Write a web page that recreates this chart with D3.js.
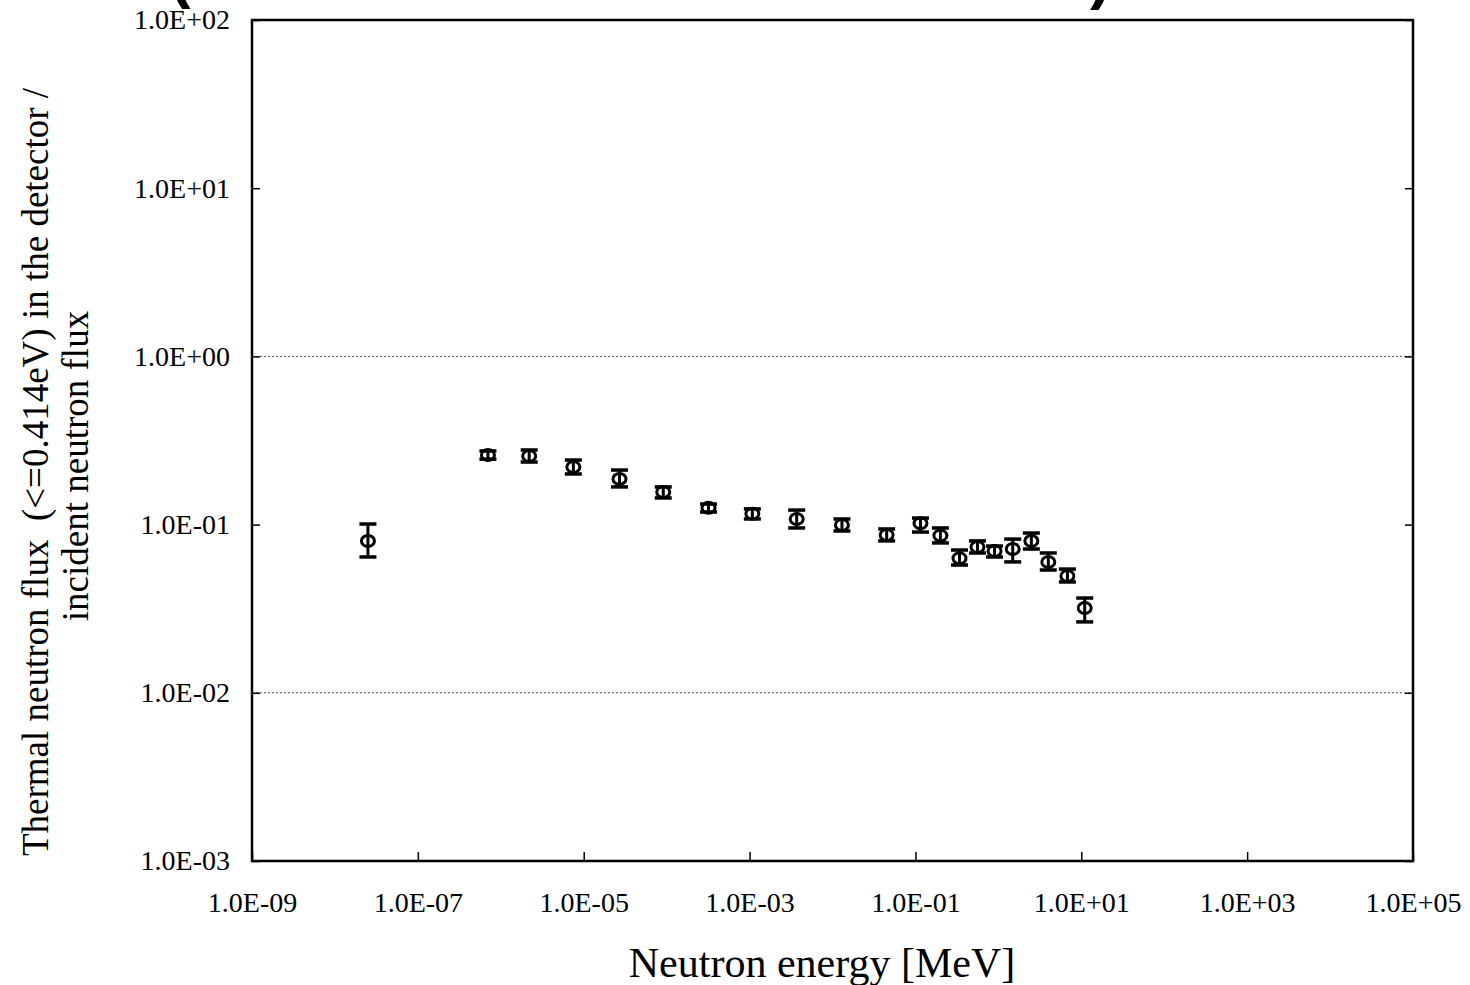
<!DOCTYPE html>
<html>
<head>
<meta charset="utf-8">
<script src="https://cdn.jsdelivr.net/npm/d3@7"></script>
<style>
  body { margin: 0; background: #fff; }
  svg { display: block; }
</style>
</head>
<body>
<div id="chart"></div>
<script>
// neutron energy [MeV]
const energy = [2.5e-8, 7.0e-7, 2.2e-6, 7.5e-6, 2.7e-5, 9.1e-5, 3.2e-4, 1.08e-3, 3.7e-3, 1.3e-2, 4.5e-2,
  0.115, 0.20, 0.34, 0.56, 0.90, 1.49, 2.5, 4.0, 6.8, 11];
// thermal flux ratio
const ratio = [0.080, 0.259, 0.256, 0.220, 0.187, 0.156, 0.126, 0.116, 0.108, 0.0995, 0.0867,
  0.102, 0.086, 0.063, 0.0736, 0.0697, 0.0716, 0.080, 0.060, 0.0494, 0.0319];
const errHi = [0.1008, 0.274, 0.2777, 0.242, 0.211, 0.1675, 0.1325, 0.124, 0.122, 0.108, 0.0942,
  0.1094, 0.0955, 0.0706, 0.080, 0.0746, 0.082, 0.0891, 0.0678, 0.0544, 0.0366];
const errLo = [0.0642, 0.245, 0.2355, 0.200, 0.1675, 0.144, 0.1188, 0.108, 0.0955, 0.0916, 0.080,
  0.0903, 0.0778, 0.0575, 0.0678, 0.0642, 0.060, 0.0716, 0.0537, 0.0456, 0.0264];

const xTicks = [1e-9, 1e-7, 1e-5, 1e-3, 1e-1, 1e1, 1e3, 1e5];
const xTickLabels = ["1.0E-09", "1.0E-07", "1.0E-05", "1.0E-03", "1.0E-01", "1.0E+01", "1.0E+03", "1.0E+05"];
const yTicks = [1e-3, 1e-2, 1e-1, 1e0, 1e1, 1e2];
const yTickLabels = ["1.0E-03", "1.0E-02", "1.0E-01", "1.0E+00", "1.0E+01", "1.0E+02"];
const yGrid = [1e-2, 1e0];

const data = energy.map((e, i) => ({ e: e, v: ratio[i], hi: errHi[i], lo: errLo[i] }));

const W = 1470, H = 985;
const plotLeft = 252, plotRight = 1413, plotTop = 20, plotBottom = 861;
const font = "'Liberation Serif', 'Times New Roman', serif";

const svg = d3.select("#chart")
  .append("svg")
    .attr("width", W)
    .attr("height", H);

const xScale = d3.scaleLog()
  .domain([1e-9, 1e5])
  .range([plotLeft, plotRight]);

const yScale = d3.scaleLog()
  .domain([1e-3, 1e2])
  .range([plotBottom, plotTop]);

// cut-off title remnants at the top edge
svg.append("text")
  .text("(")
  .attr("x", 170)
  .attr("y", -4)
  .style("font-family", "'Liberation Sans', Arial, sans-serif")
  .style("font-weight", "bold")
  .style("font-size", "62px");
svg.append("text")
  .text(")")
  .attr("x", 1090)
  .attr("y", -3)
  .style("font-family", "'Liberation Sans', Arial, sans-serif")
  .style("font-weight", "bold")
  .style("font-size", "62px");

// gridlines
svg.selectAll("line.grid")
  .data(yGrid)
  .join("line")
  .attr("class", "grid")
  .attr("x1", plotLeft)
  .attr("x2", plotRight)
  .attr("y1", d => yScale(d))
  .attr("y2", d => yScale(d))
  .attr("stroke", "#555")
  .attr("stroke-width", 1)
  .attr("stroke-dasharray", "2,2");

// x axis ticks (inside) + labels
const xAxis = d3.axisBottom(xScale)
  .tickValues(xTicks)
  .tickSizeInner(-9)
  .tickSizeOuter(0)
  .tickPadding(31)
  .tickFormat((d, i) => xTickLabels[i]);

const gx = svg.append("g")
  .attr("transform", `translate(0, ${plotBottom})`)
  .call(xAxis);
gx.select(".domain").remove();
gx.selectAll("line").attr("stroke", "#000").attr("stroke-width", 1.5);
gx.selectAll("text")
  .attr("fill", "#000")
  .style("font-family", font)
  .style("font-size", "28px");

// y axis ticks (inside) + labels
const yAxis = d3.axisLeft(yScale)
  .tickValues(yTicks)
  .tickSizeInner(-8)
  .tickSizeOuter(0)
  .tickPadding(22)
  .tickFormat((d, i) => yTickLabels[i]);

const gy = svg.append("g")
  .attr("transform", `translate(${plotLeft}, 0)`)
  .call(yAxis);
gy.select(".domain").remove();
gy.selectAll("line").attr("stroke", "#000").attr("stroke-width", 1.5);
gy.selectAll("text")
  .attr("fill", "#000")
  .style("font-family", font)
  .style("font-size", "28px");

// right side ticks
const gyr = svg.append("g")
  .attr("transform", `translate(${plotRight}, 0)`)
  .call(d3.axisRight(yScale).tickValues(yTicks).tickSizeInner(-8).tickSizeOuter(0).tickFormat(""));
gyr.select(".domain").remove();
gyr.selectAll("line").attr("stroke", "#000").attr("stroke-width", 1.5);

// frame
svg.append("rect")
  .attr("x", plotLeft)
  .attr("y", plotTop)
  .attr("width", plotRight - plotLeft)
  .attr("height", plotBottom - plotTop)
  .attr("fill", "none")
  .attr("stroke", "#000")
  .attr("stroke-width", 2.5);

// data points with error bars
const pt = svg.selectAll("g.pt")
  .data(data)
  .join("g")
  .attr("class", "pt");

pt.append("line")
  .attr("x1", d => xScale(d.e))
  .attr("x2", d => xScale(d.e))
  .attr("y1", d => yScale(d.hi))
  .attr("y2", d => yScale(d.lo))
  .attr("stroke", "#000")
  .attr("stroke-width", 3);

pt.selectAll("line.cap")
  .data(d => [{ x: d.e, y: d.hi }, { x: d.e, y: d.lo }])
  .join("line")
  .attr("class", "cap")
  .attr("x1", d => xScale(d.x) - 8.5)
  .attr("x2", d => xScale(d.x) + 8.5)
  .attr("y1", d => yScale(d.y))
  .attr("y2", d => yScale(d.y))
  .attr("stroke", "#000")
  .attr("stroke-width", 3.5);

pt.append("ellipse")
  .attr("cx", d => xScale(d.e))
  .attr("cy", d => yScale(d.v))
  .attr("rx", 6.5)
  .attr("ry", 5.5)
  .attr("fill", "none")
  .attr("stroke", "#000")
  .attr("stroke-width", 3);

// axis titles
svg.append("text")
  .text("Neutron energy [MeV]")
  .attr("x", 822)
  .attr("y", 977)
  .attr("text-anchor", "middle")
  .style("font-family", font)
  .style("font-size", "42px");

svg.append("text")
  .text("Thermal neutron flux  (<=0.414eV) in the detector /")
  .attr("transform", "translate(48, 472) rotate(-90)")
  .attr("text-anchor", "middle")
  .attr("xml:space", "preserve")
  .style("white-space", "pre")
  .style("font-family", font)
  .style("font-size", "37px");

svg.append("text")
  .text("incident neutron flux")
  .attr("transform", "translate(88, 466) rotate(-90)")
  .attr("text-anchor", "middle")
  .style("font-family", font)
  .style("font-size", "37px");
</script>
</body>
</html>
